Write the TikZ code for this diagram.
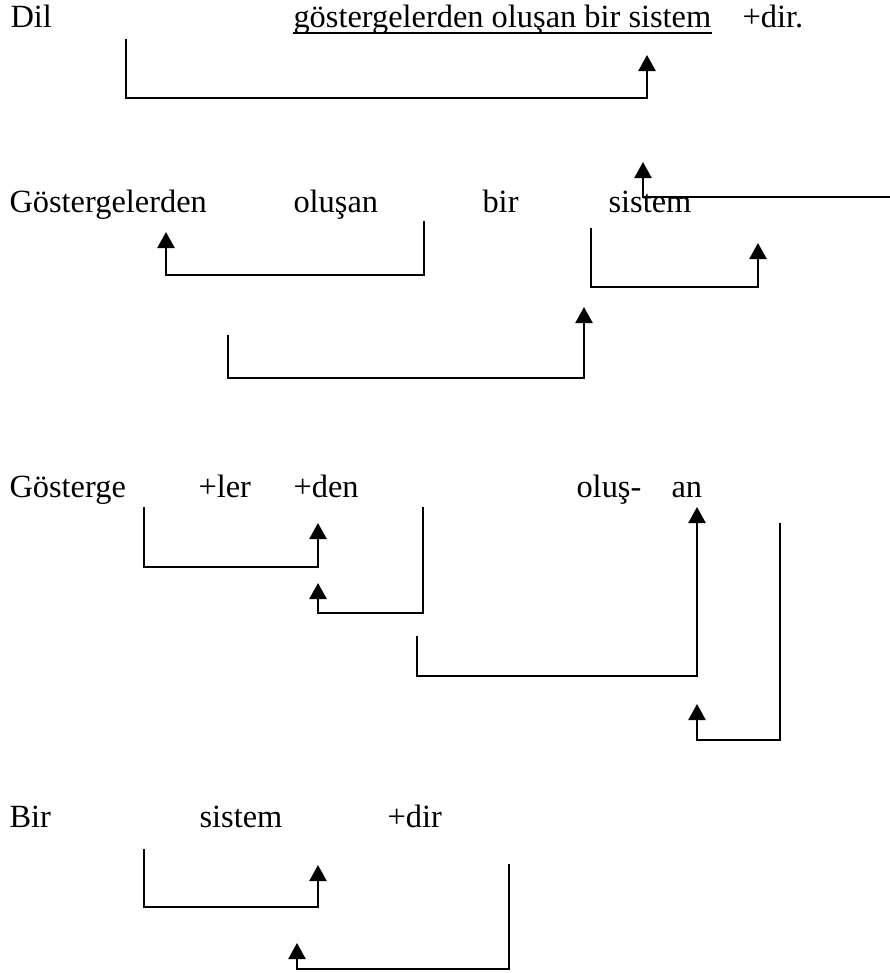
\documentclass[tikz,border=0pt]{standalone}
\usepackage{fontspec}
\setmainfont{Liberation Serif}
\usetikzlibrary{arrows.meta}
\begin{document}
\begin{tikzpicture}[x=0.3704pt,y=-0.3704pt,
    every node/.style={font=\fontsize{12}{14}\selectfont,inner sep=0pt,anchor=base west},
    link/.style={line width=0.85pt,-{Triangle[width=6.4pt,length=6pt]}}]
    \useasboundingbox (0,0) rectangle (890,973);
    % first line
    \node (dil) at (10,27) {Dil};
    \node (phrase) at (293,27) {göstergelerden oluşan bir sistem};
    \node (dirdot) at (742,27) {+dir.};
    \draw[line width=0.8pt] ([yshift=-2.2pt]phrase.base west) -- ([yshift=-2.2pt]phrase.base east);
    \coordinate (a1) at (126,39);
    \coordinate (a2) at (647,55);
    \draw[link] (a1) -- ++(0,59) -| (a2);
    % second line
    \node (gosterlerden) at (9,212) {Göstergelerden};
    \node (olusan) at (293,212) {oluşan};
    \node (bir) at (482,212) {bir};
    \node (sistem) at (608,212) {sistem};
    \coordinate (feed) at (890,197);
    \coordinate (feedtip) at (643,162);
    \draw[link] (feed) -| (feedtip);
    \coordinate (b1) at (424,221);
    \coordinate (b2) at (166,232);
    \draw[link] (b1) -- ++(0,54) -| (b2);
    \coordinate (c1) at (591,228);
    \coordinate (c2) at (758,243);
    \draw[link] (c1) -- ++(0,59) -| (c2);
    \coordinate (d1) at (228,335);
    \coordinate (d2) at (584,307);
    \draw[link] (d1) -- ++(0,43) -| (d2);
    % third line
    \node (gosterge) at (9,497) {Gösterge};
    \node (ler) at (198,497) {+ler};
    \node (den) at (293,497) {+den};
    \node (olus) at (576,497) {oluş-};
    \node (an) at (671,497) {an};
    \coordinate (e1) at (144,507);
    \coordinate (e2) at (318,523);
    \draw[link] (e1) -- ++(0,60) -| (e2);
    \coordinate (f1) at (423,507);
    \coordinate (f2) at (318,583);
    \draw[link] (f1) -- ++(0,106) -| (f2);
    \coordinate (g1) at (417,636);
    \coordinate (g2) at (697,507);
    \draw[link] (g1) -- ++(0,40) -| (g2);
    \coordinate (h1) at (780,523);
    \coordinate (h2) at (697,704);
    \draw[link] (h1) -- ++(0,217) -| (h2);
    % fourth line
    \node (bir2) at (9,827) {Bir};
    \node (sistem2) at (199,827) {sistem};
    \node (dir) at (387,827) {+dir};
    \coordinate (k1) at (144,849);
    \coordinate (k2) at (318,865);
    \draw[link] (k1) -- ++(0,58) -| (k2);
    \coordinate (m1) at (509,864);
    \coordinate (m2) at (297,943);
    \draw[link] (m1) -- ++(0,105) -| (m2);
\end{tikzpicture}
\end{document}
